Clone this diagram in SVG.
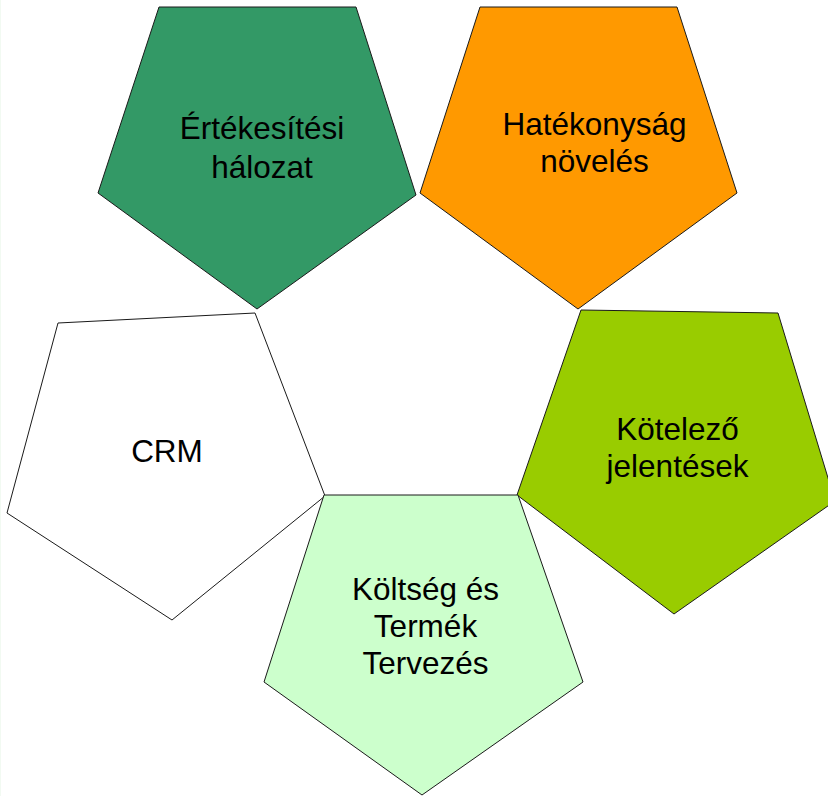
<svg xmlns="http://www.w3.org/2000/svg" width="828" height="796" viewBox="0 0 828 796">
<style>
.p{stroke:#1a1a1a;stroke-width:1;stroke-linejoin:miter}
.t{font-family:"Liberation Sans",Arial,sans-serif;font-size:31.5px;fill:#000;text-anchor:middle}
</style>
<rect x="0" y="0" width="828" height="796" fill="#fff"/>
<line x1="0.5" y1="0" x2="0.5" y2="796" stroke="#f2faf2" stroke-width="1"/>
<g id="connectors"></g>
<g id="node-ertekesitesi">
<polygon class="p" fill="#339966" points="159,7 356,7 416,195 257,309 98,193"/>
<text class="t" x="262" y="139">Értékesítési</text>
<text class="t" x="262" y="177.5">hálozat</text>
</g>
<g id="node-hatekonysag">
<polygon class="p" fill="#ff9900" points="480,7 677,7 737,193 578,309 420,193"/>
<text class="t" x="594.5" y="135">Hatékonyság</text>
<text class="t" x="594.5" y="172">növelés</text>
</g>
<g id="node-crm">
<polygon class="p" fill="#ffffff" points="58,323 255,313 325,496 172,620 7,513"/>
<text class="t" x="167" y="462.3">CRM</text>
</g>
<g id="node-kotelezo">
<polygon class="p" fill="#99cc00" points="581,310 778,313 835,501 674,614 517,495"/>
<text class="t" x="677.5" y="440">Kötelező</text>
<text class="t" x="677.5" y="477">jelentések</text>
</g>
<g id="node-koltseg">
<polygon class="p" fill="#ccffcc" points="324,495 518,495 583,682 422,795 264,682"/>
<text class="t" x="425.5" y="599.5">Költség és</text>
<text class="t" x="425.5" y="637">Termék</text>
<text class="t" x="425.5" y="674">Tervezés</text>
</g>
</svg>
